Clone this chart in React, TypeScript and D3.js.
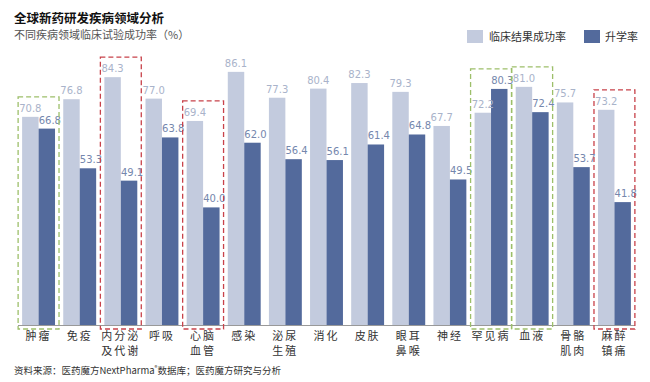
import React from "react";
import * as d3 from "d3";

const categories = ["肿瘤", "免疫", "内分泌\n及代谢", "呼吸", "心脑\n血管", "感染", "泌尿\n生殖", "消化", "皮肤", "眼耳\n鼻喉", "神经", "罕见病", "血液", "骨骼\n肌肉", "麻醉\n镇痛"];
const clinicalSuccess = [70.8, 76.8, 84.3, 77.0, 69.4, 86.1, 77.3, 80.4, 82.3, 79.3, 67.7, 72.2, 81.0, 75.7, 73.2];
const promotionRate = [66.8, 53.3, 49.1, 63.8, 40.0, 62.0, 56.4, 56.1, 61.4, 64.8, 49.5, 80.3, 72.4, 53.7, 41.8];
const seriesNames = ["临床结果成功率", "升学率"];
const greenBoxes = ["肿瘤", "罕见病", "血液"];
const redBoxes = ["内分泌\n及代谢", "心脑\n血管", "麻醉\n镇痛"];

const W = 650, H = 382;
const LIGHT = "#c3cbde";
const DARK = "#536a9c";
const LIGHT_TXT = "#a9b3ca";
const DARK_TXT = "#7587ad";
const GREEN = "#9dbf6a";
const RED = "#c8424a";
const CJK = "'Noto Sans CJK SC', sans-serif";

export default function App() {
  const x = d3.scaleBand<string>().domain(categories).range([18, 635]).paddingInner(0.2).paddingOuter(0.1);
  const y = d3.scaleLinear().domain([0, 100]).range([325, 31]);
  const bw = x.bandwidth() / 2;
  const base = y(0);

  const box = (cat: string, color: string, i: number) => {
    const idx = categories.indexOf(cat);
    const mx = Math.max(clinicalSuccess[idx], promotionRate[idx]);
    const x0 = (x(cat) as number) - 4;
    const x1 = (x(cat) as number) + x.bandwidth() + 4;
    const top = y(mx) - 20;
    const bottom = base + 4;
    return (
      <rect key={"b" + i + cat} x={x0} y={top} width={x1 - x0} height={bottom - top}
        fill="none" stroke={color} strokeWidth={1.3} strokeDasharray="5,3" />
    );
  };

  return (
    <svg width={W} height={H} style={{ position: "absolute", left: 0, top: 0, background: "#fff" }}>
      <text x={14} y={23} fontFamily={CJK} fontSize={12.5} fontWeight="bold" fill="#111">全球新药研发疾病领域分析</text>
      <text x={14} y={39} fontFamily={CJK} fontSize={11} fill="#555">不同疾病领域临床试验成功率（%）</text>

      <rect x={467} y={30} width={16} height={13} fill={LIGHT} />
      <text x={489} y={41} fontFamily={CJK} fontSize={11} fill="#333">{seriesNames[0]}</text>
      <rect x={584} y={30} width={16} height={13} fill={DARK} />
      <text x={605} y={41} fontFamily={CJK} fontSize={11} fill="#333">{seriesNames[1]}</text>

      {categories.map((c, i) => {
        const x0 = x(c) as number;
        return (
          <g key={c}>
            <rect x={x0} y={y(clinicalSuccess[i])} width={bw} height={base - y(clinicalSuccess[i])} fill={LIGHT} />
            <rect x={x0 + bw} y={y(promotionRate[i])} width={bw} height={base - y(promotionRate[i])} fill={DARK} />
            <text x={x0 + bw / 2} y={y(clinicalSuccess[i]) - 5} textAnchor="middle" fontFamily="'DejaVu Sans', sans-serif" fontSize={10} fill={LIGHT_TXT}>{clinicalSuccess[i].toFixed(1)}</text>
            <text x={x0 + bw * 1.5 + 3} y={y(promotionRate[i]) - 5} textAnchor="middle" fontFamily="'DejaVu Sans', sans-serif" fontSize={10} fill={DARK_TXT}>{promotionRate[i].toFixed(1)}</text>
            {c.split("\n").map((line, j) => (
              <text key={j} x={x0 + x.bandwidth() / 2} y={340 + j * 15} textAnchor="middle" fontFamily={CJK} fontSize={11} fill="#333" letterSpacing={2}>{line}</text>
            ))}
          </g>
        );
      })}

      <line x1={18} x2={635} y1={base + 0.5} y2={base + 0.5} stroke="#999" strokeWidth={1} />

      {greenBoxes.map((c, i) => box(c, GREEN, i))}
      {redBoxes.map((c, i) => box(c, RED, i))}

      <text x={14} y={374} fontFamily={CJK} fontSize={9.5} fill="#333">资料来源：医药魔方NextPharma<tspan fontSize={6} dy={-4}>®</tspan><tspan dy={4}>数据库；医药魔方研究与分析</tspan></text>
    </svg>
  );
}
